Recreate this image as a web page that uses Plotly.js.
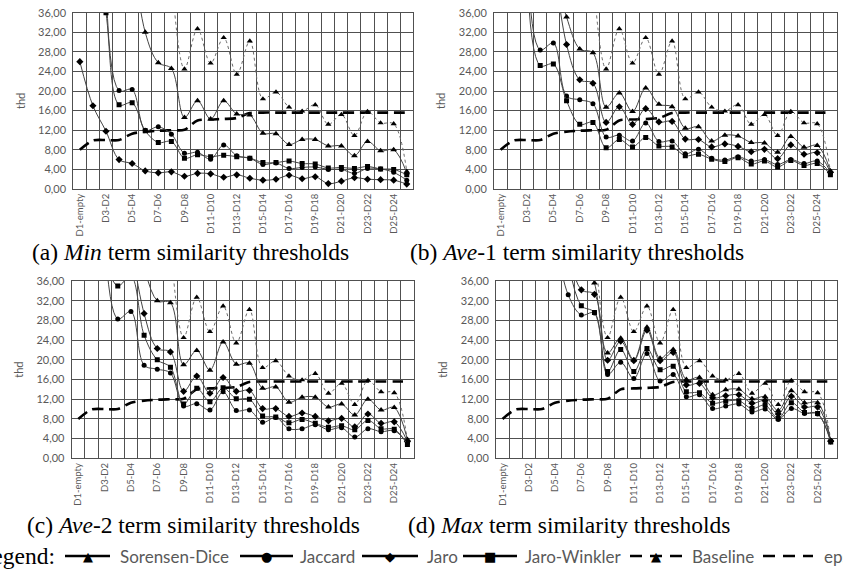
<!DOCTYPE html>
<html><head><meta charset="utf-8">
<script src="https://cdn.plot.ly/plotly-3.0.1.min.js"></script>
<style>html,body{margin:0;padding:0;background:#fff}#chart{width:843px;height:570px}</style>
</head><body><div id="chart"></div>
<script>
const categories = ['D1-empty','D2-D1','D3-D2','D4-D3','D5-D4','D6-D5','D7-D6','D8-D7','D9-D8','D10-D9',
  'D11-D10','D12-D11','D13-D12','D14-D13','D15-D14','D16-D15','D17-D16','D18-D17','D19-D18','D20-D19',
  'D21-D20','D22-D21','D23-D22','D24-D23','D25-D24','D26-D25'];

const baseline = [null,null,null,null,null,null,null,44,24.5,32.7,25.7,30.9,23.4,30.2,18.4,19.8,16.7,15.9,17.2,13.2,15.2,10.9,15.8,13.5,13.3,3.6];
const eps = [8.0,9.9,10.0,10.0,11.3,11.7,11.9,12.0,12.1,14.0,14.2,14.3,14.5,15.5,15.6,15.6,15.6,15.6,15.6,15.6,15.6,15.6,15.6,15.6,15.6,15.6];

// (a) Min
const minSorensen = [null,null,null,null,50,32.0,25.8,24.6,14.6,18.0,14.3,18.0,15.3,15.1,11.4,11.3,9.1,10.1,10.1,8.8,8.8,6.8,9.7,7.8,8.0,3.3];
const minJaccard = [null,null,45,20.1,20.3,12.0,12.7,11.2,7.3,7.5,6.1,9.0,6.8,6.3,5.0,5.3,4.2,4.4,4.5,4.0,4.0,3.2,4.2,4.1,3.4,1.8];
const minJaro = [26.0,17.0,11.8,6.0,5.2,3.7,3.3,3.5,2.6,3.2,3.1,2.4,2.9,2.2,1.8,2.0,2.8,2.1,2.5,1.1,1.6,2.3,2.0,1.9,1.8,1.0];
const minJaroWinkler = [null,55,36.0,17.2,17.6,11.9,9.5,9.7,6.3,7.0,6.6,6.9,6.6,6.3,5.4,5.4,5.7,5.2,5.1,4.3,4.4,4.2,4.6,4.1,4.0,2.9];

// (b) Ave-1
const ave1Sorensen = [null,null,null,null,45,35.1,28.6,27.8,16.7,19.6,15.8,20.6,17.3,16.8,12.4,12.7,9.8,11.0,10.8,9.5,9.4,7.5,10.7,8.5,8.9,3.7];
const ave1Jaccard = [null,null,48,28.4,29.8,19.0,18.2,17.4,10.6,11.0,9.8,13.5,9.7,9.8,7.2,8.1,6.3,5.9,6.6,5.7,6.0,5.0,6.0,5.2,5.7,3.2];
const ave1Jaro = [null,null,null,null,48,29.5,22.3,21.6,13.6,16.8,13.2,16.4,13.7,13.8,10.2,10.1,8.6,9.2,8.7,7.6,8.1,6.2,9.0,7.1,7.4,3.4];
const ave1JaroWinkler = [null,null,45,25.2,25.5,18.0,13.2,13.6,8.4,10.1,8.6,10.5,8.8,8.6,6.8,7.1,6.1,5.6,6.4,5.1,5.7,4.5,5.8,4.8,5.2,2.9];

// (c) Ave-2
const ave2Sorensen = [null,null,null,null,null,39,32.0,31.6,19.0,21.9,17.9,23.6,19.1,19.3,14.2,14.5,11.4,12.4,12.4,10.4,11.0,8.8,12.0,9.8,10.3,3.8];
const ave2Jaccard = [null,null,45,28.3,29.8,18.9,18.1,17.3,10.6,11.1,9.8,13.5,9.7,9.8,7.3,8.3,6.0,6.0,6.8,5.8,6.2,4.3,6.0,5.4,5.6,3.1];
const ave2Jaro = [null,null,null,null,44,29.4,22.3,21.6,13.6,16.7,13.2,16.4,13.6,13.8,10.1,10.1,8.5,9.2,8.5,7.6,8.1,6.4,9.0,7.1,7.4,3.4];
const ave2JaroWinkler = [null,null,40,35.0,37.0,25.0,20.0,18.5,11.0,14.2,11.5,14.3,12.1,12.0,8.6,8.4,7.2,7.9,7.1,6.3,6.6,5.8,7.7,6.0,5.9,2.8];

// (d) Max
const maxSorensen = [null,null,null,null,null,null,42,35.6,21.4,24.4,20.0,26.6,20.3,22.1,16.0,16.4,12.9,13.9,14.0,12.1,12.5,9.7,13.7,11.3,11.3,3.6];
const maxJaccard = [null,null,null,null,45,33.2,29.1,29.5,17.0,19.5,16.2,21.3,15.7,17.0,12.5,12.9,10.1,10.6,11.0,9.4,10.0,7.9,10.1,9.1,9.0,3.5];
const maxJaro = [null,null,null,null,null,42,34.2,33.3,19.9,23.8,19.8,26.0,19.8,21.5,14.9,15.2,12.3,12.7,12.9,11.2,11.7,9.0,12.6,10.4,10.4,3.5];
const maxJaroWinkler = [null,null,null,null,null,40,31.0,29.6,17.6,22.1,17.6,22.3,18.0,18.7,13.5,13.3,11.2,11.6,11.7,10.1,10.8,8.1,11.3,9.3,9.1,3.3];

const panelCaptions = ['(a) <i>Min</i> term similarity thresholds','(b) <i>Ave</i>-1 term similarity thresholds',
  '(c) <i>Ave</i>-2 term similarity thresholds','(d) <i>Max</i> term similarity thresholds'];
const seriesNames = ['Sorensen-Dice','Jaccard','Jaro','Jaro-Winkler','Baseline','eps'];

const W = 843, H = 570;
const px = v => v / W, py = v => 1 - v / H;
const xIdx = categories.map((c, i) => i);
const tickvals = xIdx.filter(i => i % 2 === 0 && i < 25);
const ticktext = tickvals.map(i => categories[i]);

const panels = [
  {data:[minSorensen,minJaccard,minJaro,minJaroWinkler], x:[73.3,413.3], y:[12.7,189]},
  {data:[ave1Sorensen,ave1Jaccard,ave1Jaro,ave1JaroWinkler], x:[494,837], y:[12.7,189]},
  {data:[ave2Sorensen,ave2Jaccard,ave2Jaro,ave2JaroWinkler], x:[71.7,414], y:[281,458.3]},
  {data:[maxSorensen,maxJaccard,maxJaro,maxJaroWinkler], x:[496,837.3], y:[281,458.3]}
];
const symbols = ['triangle-up','circle','diamond','square'];
const msize = [6,5,5.5,5];

const traces = [];
const layout = {
  width: W, height: H, margin:{l:0,r:0,t:0,b:0}, paper_bgcolor:'#fff', plot_bgcolor:'#fff',
  showlegend:false, separators:',.', font:{family:'Lato, "Open Sans", sans-serif'},
  annotations:[], shapes:[]
};
const gridC = '#505050';
panels.forEach((p, n) => {
  const sfx = n === 0 ? '' : String(n + 1);
  const xa = 'x' + sfx, ya = 'y' + sfx;
  layout['xaxis' + sfx] = {
    domain:[px(p.x[0]), px(p.x[1])], anchor: ya, range:[-0.5,25.5],
    tickmode:'array', tickvals, ticktext, tickangle:-90, ticks:'',
    tickfont:{family:'Lato', size:9.5, color:'#595959'},
    showgrid:false, zeroline:false, showline:true, mirror:true, linecolor:gridC, linewidth:1,
    minor:{tickmode:'linear', tick0:-0.5, dtick:1, showgrid:true, gridcolor:gridC, gridwidth:1, ticks:''},
    fixedrange:true
  };
  layout['yaxis' + sfx] = {
    domain:[py(p.y[1]), py(p.y[0])], anchor: xa, range:[0,36], tickmode:'linear', tick0:0, dtick:4,
    tickformat:'.2f', ticks:'', ticklabelstandoff:4,
    tickfont:{family:'Lato', size:11, color:'#595959'},
    gridcolor:gridC, gridwidth:1, zeroline:false, showline:true, mirror:true, linecolor:gridC, linewidth:1,
    title:{text:'thd', font:{family:'Lato', size:11, color:'#595959'}, standoff:10},
    fixedrange:true
  };
  // eps
  traces.push({type:'scatter', mode:'lines', x:xIdx, y:eps, name:seriesNames[5], xaxis:xa, yaxis:ya,
    line:{color:'#000', width:2.6, dash:'11px,6px', shape:'spline', smoothing:0.8}, hoverinfo:'skip'});
  // baseline
  traces.push({type:'scatter', mode:'lines+markers', x:xIdx, y:baseline, name:seriesNames[4], xaxis:xa, yaxis:ya,
    line:{color:'#6a6a6a', width:1, dash:'dot', shape:'spline', smoothing:1},
    marker:{symbol:'triangle-up', size:5.5, color:'#000'}, hoverinfo:'skip'});
  p.data.forEach((arr, i) => {
    traces.push({type:'scatter', mode:'lines+markers', x:xIdx, y:arr, name:seriesNames[i], xaxis:xa, yaxis:ya,
      line:{color:'#444', width:1, shape:'spline', smoothing:1},
      marker:{symbol:symbols[i], size:msize[i], color:'#000'}, hoverinfo:'skip'});
  });
});

// captions
const capPos = [[190,252],[577,252],[193,525],[569,525]];
panelCaptions.forEach((t, i) => {
  layout.annotations.push({text:t, xref:'paper', yref:'paper', x:px(capPos[i][0]), y:py(capPos[i][1]),
    xanchor:'center', yanchor:'middle', showarrow:false,
    font:{family:'"Liberation Serif", "Times New Roman", serif', size:23.5, color:'#000'}});
});

// legend row
const ly = 556;
layout.annotations.push({text:'Legend:', xref:'paper', yref:'paper', x:px(57), y:py(ly), xanchor:'right', yanchor:'middle',
  showarrow:false, font:{family:'"Liberation Serif", serif', size:23.5, color:'#000'}});
const legItems = [
  {line:[65,110], glyph:'▲', text:118, dash:'solid'},
  {line:[240,293], glyph:'●', text:298, dash:'solid'},
  {line:[362,418], glyph:'◆', text:425, dash:'solid'},
  {line:[463,517], glyph:'■', text:523, dash:'solid'},
  {line:[630,682], glyph:'▲', text:690, dash:'dash'},
  {line:[763,813], glyph:'', text:822, dash:'dash'}
];
legItems.forEach((it, i) => {
  layout.shapes.push({type:'line', xref:'paper', yref:'paper', x0:px(it.line[0]), x1:px(it.line[1]), y0:py(ly), y1:py(ly),
    line:{color:'#000', width:2.5, dash: it.dash === 'dash' ? '12px,8px' : 'solid'}});
  if (it.glyph) layout.annotations.push({text:it.glyph, xref:'paper', yref:'paper', x:px((it.line[0]+it.line[1])/2), y:py(ly),
    xanchor:'center', yanchor:'middle', showarrow:false, font:{family:'"DejaVu Sans"', size:13, color:'#000'}});
  layout.annotations.push({text:seriesNames[i], xref:'paper', yref:'paper', x:px(it.text), y:py(ly), xanchor:'left', yanchor:'middle',
    showarrow:false, font:{family:'Lato, sans-serif', size:17, color:'#595959'}});
});

Plotly.newPlot('chart', traces, layout, {staticPlot:true});
</script></body></html>
